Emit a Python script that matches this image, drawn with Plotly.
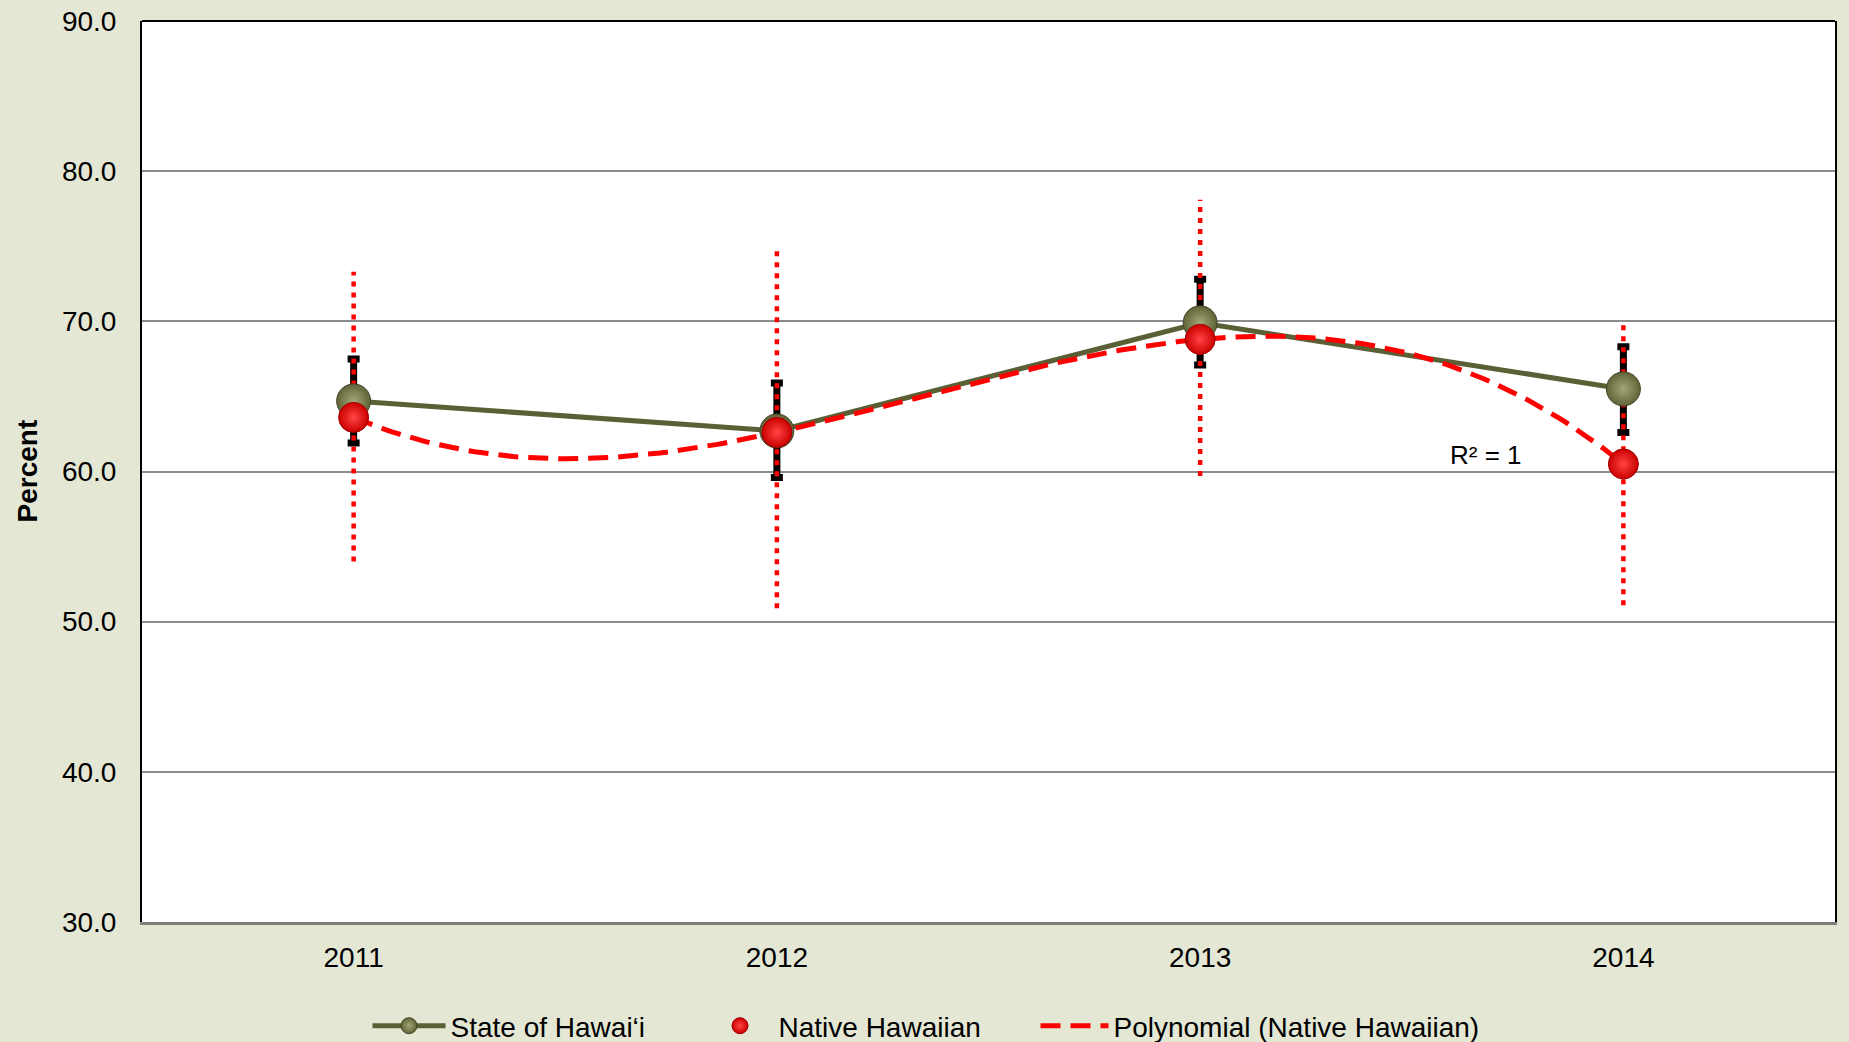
import numpy as np
import plotly.graph_objects as go

# ---- data ----
years = ["2011", "2012", "2013", "2014"]
x_pos = [1, 2, 3, 4]
state = [64.7, 62.7, 69.9, 65.5]
state_lo = [61.9, 59.6, 67.1, 62.6]
state_hi = [67.5, 65.9, 72.8, 68.3]
nh = [63.6, 62.6, 68.8, 60.5]
nh_lo = [54.0, 50.9, 59.7, 51.1]
nh_hi = [73.3, 74.7, 78.1, 69.9]
y_ticks = [30, 40, 50, 60, 70, 80, 90]

FONT = "Liberation Sans, Arial, Helvetica, sans-serif"
OLIVE = "#5b5f36"
RED = "#ff0000"

fig = go.Figure()

# State of Hawai'i error bars (black, with caps)
fig.add_trace(go.Scatter(
    x=x_pos, y=state, mode="markers",
    marker=dict(size=1, color="rgba(0,0,0,0)"),
    error_y=dict(type="data", symmetric=False,
                 array=[h - v for h, v in zip(state_hi, state)],
                 arrayminus=[v - l for v, l in zip(state, state_lo)],
                 color="black", thickness=7, width=6),
    showlegend=False, hoverinfo="skip"))

# Native Hawaiian error bars (red dotted)
ex, ey = [], []
for xp, lo, hi in zip(x_pos, nh_lo, nh_hi):
    ex += [xp, xp, None]
    ey += [lo, hi, None]
fig.add_trace(go.Scatter(
    x=ex, y=ey, mode="lines",
    line=dict(color=RED, width=4.5, dash="5px,6px"),
    showlegend=False, hoverinfo="skip"))

# State line + markers
fig.add_trace(go.Scatter(
    x=x_pos, y=state, mode="lines+markers", name="State of Hawai\u2018i",
    legend="legend",
    line=dict(color=OLIVE, width=5),
    marker=dict(size=34, color="#5f6337",
                gradient=dict(type="radial", color="#a3a777"),
                line=dict(color="#44472a", width=1))))

# Polynomial trendline (order 3) of Native Hawaiian
coef = np.polyfit(x_pos, nh, 3)
xt = np.linspace(1, 4, 200)
yt = np.polyval(coef, xt)
fig.add_trace(go.Scatter(
    x=xt, y=yt, mode="lines", name="Polynomial (Native Hawaiian)",
    legend="legend3",
    line=dict(color=RED, width=5, dash="20px,10px")))

# Native Hawaiian markers
fig.add_trace(go.Scatter(
    x=x_pos, y=nh, mode="markers", name="Native Hawaiian",
    legend="legend2",
    marker=dict(size=30, color="#cc0000",
                gradient=dict(type="radial", color="#ff4545"),
                line=dict(color="#a00000", width=1))))

fig.add_annotation(x=3.675, y=61.1, xref="x", yref="y", text="R\u00b2 = 1",
                   showarrow=False, font=dict(size=26, color="black", family=FONT))
fig.add_annotation(x=(27 - 142) / 1693, y=0.5, xref="paper", yref="paper",
                   text="<b>Percent</b>", textangle=-90, showarrow=False,
                   xanchor="center", yanchor="middle",
                   font=dict(size=28, color="black", family=FONT))

# top border
fig.add_shape(type="line", xref="paper", yref="paper", x0=0, x1=1, y0=1, y1=1,
              line=dict(color="black", width=2))

LEG_Y = -(1026 - 922) / 901


def leg(px, itemwidth):
    return dict(orientation="h", x=(px - 142) / 1693, xanchor="left",
                y=LEG_Y, yanchor="middle", itemwidth=itemwidth,
                font=dict(size=28, family=FONT, color="black"),
                bgcolor="rgba(0,0,0,0)")


fig.update_layout(
    width=1849, height=1042,
    margin=dict(l=142, r=14, t=21, b=120, autoexpand=False),
    paper_bgcolor="#e3e7d4", plot_bgcolor="white",
    font=dict(family=FONT, size=28, color="black"),
    legend=leg(367.5, 73),
    legend2=leg(701.5, 67),
    legend3=leg(1035.5, 68),
    xaxis=dict(range=[0.5, 4.5], tickvals=x_pos, ticktext=years,
               showgrid=False, zeroline=False, showline=True,
               linecolor="#7f7f7f", linewidth=3, ticks="",
               ticklabelstandoff=8, tickfont=dict(size=28)),
    yaxis=dict(range=[30, 90], tickvals=y_ticks,
               ticktext=[f"{v:.1f}" for v in y_ticks],
               showgrid=True, gridcolor="#8c8c8c", gridwidth=1.7,
               zeroline=False, showline=True, linecolor="black", linewidth=2,
               mirror=True, ticks="", ticklabelstandoff=18,
               tickfont=dict(size=28)),
)

fig.write_html("out.html", config={"displayModeBar": False},
               post_script="document.body.style.margin='0';document.body.style.overflow='hidden';")
